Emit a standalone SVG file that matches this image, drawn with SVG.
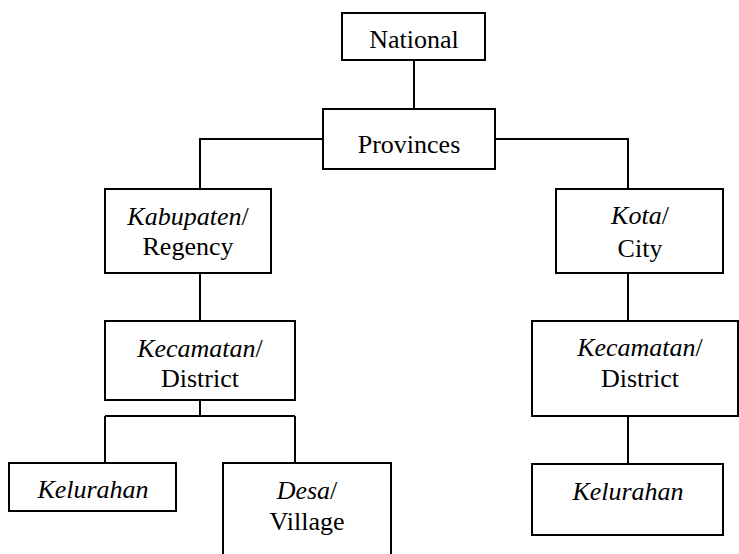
<svg xmlns="http://www.w3.org/2000/svg" width="739" height="554" viewBox="0 0 739 554">
<style>
.box{fill:#fff;stroke:#000;stroke-width:2}
.ln{fill:none;stroke:#000;stroke-width:2}
text{font-family:'Liberation Serif','Times New Roman',Tinos,'DejaVu Serif','Noto Serif',serif;font-size:26px;fill:#000;text-anchor:middle}
.it{font-style:italic}
</style>
<rect width="739" height="554" fill="#fff"/>
<g id="connectors">
<path class="ln" d="M414,60 V109"/>
<path class="ln" d="M323,139 H200 V189"/>
<path class="ln" d="M495,139 H628 V189"/>
<path class="ln" d="M200,273 V321"/>
<path class="ln" d="M200,400 V416 M105,416 H295 M105,416 V463 M295,416 V463"/>
<path class="ln" d="M628,273 V321"/>
<path class="ln" d="M628,416 V464"/>
</g>
<g id="national">
<rect class="box" x="342" y="13" width="143" height="47"/>
<text x="414" y="48" font-family="Liberation Serif, DejaVu Serif, serif">National</text>
</g>
<g id="provinces">
<rect class="box" x="323" y="109" width="172" height="60"/>
<text x="409" y="153">Provinces</text>
</g>
<g id="kabupaten">
<rect class="box" x="105" y="189" width="166" height="84"/>
<text x="188" y="225"><tspan class="it">Kabupaten</tspan>/</text>
<text x="188" y="255">Regency</text>
</g>
<g id="kecamatan-left">
<rect class="box" x="105" y="321" width="190" height="79"/>
<text x="200" y="357"><tspan class="it">Kecamatan</tspan>/</text>
<text x="200" y="387">District</text>
</g>
<g id="kelurahan-left">
<rect class="box" x="9" y="463" width="167" height="48"/>
<text x="93" y="498" class="it">Kelurahan</text>
</g>
<g id="desa">
<path class="box" d="M223,556 V463 H391 V556"/>
<text x="307" y="499"><tspan class="it">Desa</tspan>/</text>
<text x="307" y="530">Village</text>
</g>
<g id="kota">
<rect class="box" x="556" y="189" width="167" height="84"/>
<text x="640" y="224"><tspan class="it">Kota</tspan>/</text>
<text x="640" y="257">City</text>
</g>
<g id="kecamatan-right">
<rect class="box" x="532" y="321" width="206" height="95"/>
<text x="640" y="356"><tspan class="it">Kecamatan</tspan>/</text>
<text x="640" y="387">District</text>
</g>
<g id="kelurahan-right">
<rect class="box" x="532" y="464" width="191" height="71"/>
<text x="628" y="500" class="it">Kelurahan</text>
</g>
</svg>
